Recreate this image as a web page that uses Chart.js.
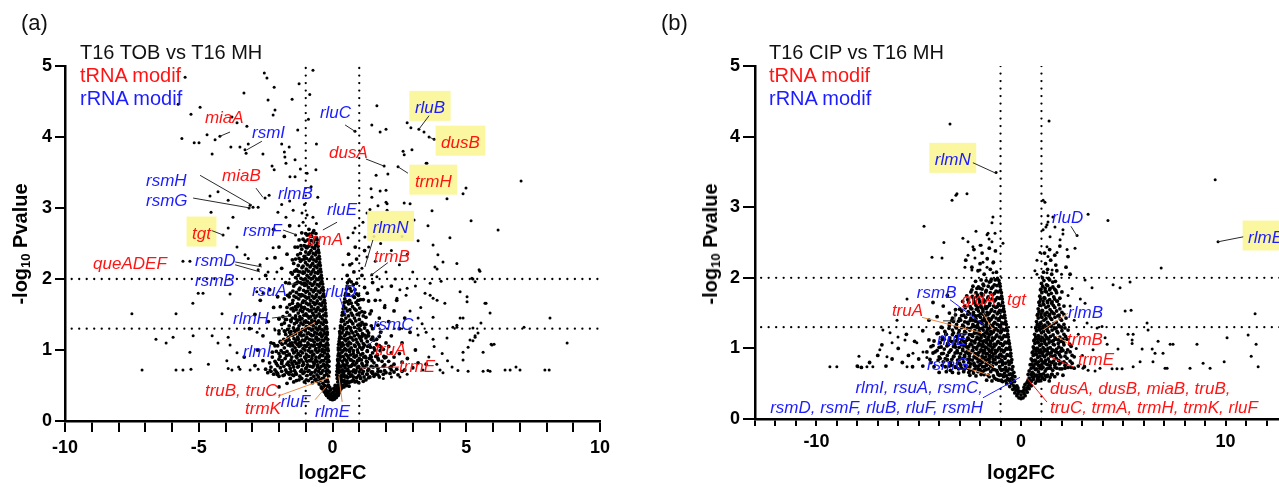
<!DOCTYPE html>
<html lang="en">
<head>
<meta charset="UTF-8">
<title>Volcano plots T16</title>
<script src="https://cdn.jsdelivr.net/npm/chart.js"></script>
<style>
  body { margin: 0; width: 1279px; height: 487px; overflow: hidden; background: #fff; position: relative;
         font-family: 'Liberation Sans', Arial, sans-serif; }
  canvas { position: absolute; top: 0; }
  .txt { position: absolute; line-height: 1; white-space: nowrap; font-size: 20px; color: #111; }
  .panel { font-size: 22px; }
  .red { color: #ff1414; }
  .blue { color: #1c1cff; }
  .ytitle { position: absolute; top: 244px; line-height: 1; white-space: nowrap; font-weight: bold; font-size: 20px;
            color: #000; transform: translate(-50%, -50%) rotate(-90deg); }
  .ytitle sub { font-size: 13px; vertical-align: -3px; line-height: 0; }
</style>
</head>
<body>

<canvas id="tob" width="640" height="487" style="left:0"></canvas>
<canvas id="cip" width="700" height="487" style="left:640px"></canvas>

<div class="txt panel" style="left:21px;top:12px">(a)</div>
<div class="txt" style="left:80px;top:42px">T16 TOB vs T16 MH</div>
<div class="txt red" style="left:80px;top:65px">tRNA modif</div>
<div class="txt blue" style="left:80px;top:88px">rRNA modif</div>
<div class="ytitle" style="left:20px">-log<sub>10</sub> Pvalue</div>

<div class="txt panel" style="left:661px;top:12px">(b)</div>
<div class="txt" style="left:769px;top:42px">T16 CIP vs T16 MH</div>
<div class="txt red" style="left:769px;top:65px">tRNA modif</div>
<div class="txt blue" style="left:769px;top:88px">rRNA modif</div>
<div class="ytitle" style="left:710px">-log<sub>10</sub> Pvalue</div>

<script>
// [log2FC, -log10 p]

// TOB vs MH : scattered genes
const tobSpread = [
  [-5.51,4.84],[-5.77,4.46],[-4.95,4.42],[-5.29,4.32],[-2.55,4.9],[-2.45,4.83],[-2.18,4.7],[-3.31,4.62],[-2.41,4.52],[-1.51,4.53],
  [-2.15,4.38],[-2.22,4.31],[-3.76,4.28],[-3.57,4.2],[-3.2,4.15],[-4.21,4.01],[-4.39,3.96],[-4.69,4.03],[-5.63,3.98],[-5.17,3.92],
  [-4.99,3.92],[-4.5,3.76],[-3.8,3.86],[-3.46,3.86],[-3.15,3.9],[-3.27,3.82],[-3.23,3.77],[-2.6,3.76],[-2.26,3.59],[-2.18,3.54],
  [-1.8,3.79],[-1.78,3.72],[-1.74,3.63],[-1.62,3.86],[-1.4,3.68],[-1.59,3.44],[-1.4,3.44],[-0.95,3.49],[-0.62,3.54],[-0.73,4.94],
  [-2.37,3.18],[-2.52,3.14],[-2.78,3.01],[-2.97,3.01],[-3.08,3.04],[-3.12,3.0],[-4.28,3.23],[-3.9,3.11],[-4.58,3.17],[-4.54,2.94],
  [-3.72,2.87],[-3.9,2.72],[-4.09,2.62],[-3.57,2.45],[-1.47,2.97],[-1.14,2.93],[-0.73,2.87],[-2.04,2.94],[-1.74,2.87],[-1.38,2.62],
  [-1.9,3.9],[-1.2,3.55],[-0.8,3.3],[-0.6,3.9],[-1.3,4.1],[-0.85,4.6],[-1.6,3.1],[-1.9,3.05],[-1.05,3.05],[-0.55,3.15],
  [-1.25,4.75],[-0.9,4.25],[-1.1,2.8],[-0.95,2.9],[-1.25,2.75],[-0.6,2.78],
  [-3.27,2.34],[-3.15,2.29],[-5.59,2.25],[-5.33,2.25],[-2.45,2.29],[-2.22,2.44],[-2.71,2.2],[-2.78,2.13],[-2.41,2.1],[-2.08,2.1],
  [-5.02,1.8],[-4.84,1.8],[-3.83,1.79],[-5.22,1.66],[-2.83,1.82],[-2.6,1.8],[-7.5,1.51],[-5.85,1.51],[-4.13,1.51],[-6.6,1.15],
  [-6.22,1.1],[-5.96,1.18],[-5.21,1.2],[-4.5,1.2],[-4.28,1.1],[-3.9,1.18],[-3.83,1.07],[-5.33,0.97],[-4.64,0.8],[-3.95,0.85],
  [-7.12,0.72],[-5.85,0.72],[-5.59,0.72],[-5.29,0.73],[-3.9,0.74],[-3.76,0.72],[-3.51,0.76],[-3.46,0.73],[-3.08,0.72],[-2.78,0.73],
  [-2.34,0.72],[-2.08,0.65],[-3.57,0.96],[-2.82,1.25],[-2.15,1.28],
  [1.66,4.44],[1.47,4.17],[1.78,4.07],[2.0,4.11],[2.79,4.2],[2.93,4.13],[3.23,4.11],[3.42,4.07],[3.61,4.0],[3.8,3.97],
  [0.84,4.08],[2.64,3.8],[2.68,3.75],[2.97,3.82],[3.53,3.63],[1.93,3.59],[2.45,3.58],[1.63,3.46],[2.07,3.48],[7.05,3.38],
  [4.99,3.28],[4.88,3.2],[4.28,3.13],[1.44,3.27],[1.78,3.24],[2.0,3.25],[1.47,3.15],[2.0,3.08],[2.04,3.06],[1.7,3.03],
  [2.68,3.07],[2.9,3.06],[1.4,2.98],[2.04,2.97],[3.72,2.96],[5.18,2.82],[3.57,2.75],[3.05,2.83],[6.19,2.69],[4.39,2.58],
  [3.2,2.54],[3.76,2.48],[0.84,2.72],[0.77,2.65],[0.58,2.58],[1.21,2.59],[1.14,2.8],[1.29,2.93],
  [3.94,2.34],[4.65,2.22],[3.83,2.17],[3.91,2.14],[4.13,2.24],[5.51,2.11],[5.25,2.0],[0.73,2.22],[0.39,2.2],[1.29,2.31],
  [1.47,2.06],[1.66,2.03],[1.85,1.89],[2.52,1.85],[2.79,1.87],[2.75,1.77],[2.41,1.73],[1.78,1.7],[1.96,1.63],[3.46,1.8],
  [3.65,1.77],[3.76,1.73],[3.91,1.7],[4.2,1.66],[4.77,1.82],[5.03,1.75],[5.03,1.68],[5.7,1.66],[5.89,1.52],[8.13,1.45],
  [8.77,1.1],[3.76,1.46],[4.77,1.45],[4.88,1.45],[4.65,1.32],[5.25,1.31],[5.33,1.2],[5.14,1.14],[5.96,1.07],[5.07,1.04],
  [4.28,1.17],[3.76,1.15],[3.35,1.37],[3.2,1.21],[5.63,0.97],[4.88,0.86],[4.47,0.76],[4.02,0.72],[4.13,0.68],[3.38,0.72],
  [5.07,0.7],[5.63,0.7],[5.89,0.7],[6.64,0.72],[6.86,0.76],[7.01,0.72],[7.94,0.72],[2.52,0.62],[2.79,0.66],[2.2,0.62],
  [1.9,0.6],[3.5,3.63],[5.48,2.13],[5.21,2.01],[5.33,1.96],[3.65,1.94],[4.06,1.97],[5.74,1.66],[5.55,1.38],[7.16,1.32],
  [4.5,1.32],[4.65,1.35],[5.44,1.24],[5.33,1.18],[5.25,1.13],[5.93,1.08],[6.04,1.08],[4.88,0.97],[4.69,0.71],[5.81,0.71],
  [6.45,0.72],[8.1,0.72],
  [1.1,2.15],[1.35,2.45],[1.55,2.6],[1.8,2.5],[2.2,2.4],[2.5,2.2],[2.8,2.35],[3.0,2.1],[2.6,2.6],[1.6,2.25],
  [2.0,2.1],[2.35,2.0],[3.1,1.9],[3.3,1.6],[2.9,1.55],[3.2,1.45],[3.5,1.25],[3.8,1.05],[4.1,0.95],[3.6,0.9],
  [4.3,0.85],[3.9,0.8]
];

// TOB vs MH : dense centre of the volcano
const tobCore = [
  [-0.22,0.36],[-0.15,0.33],[-0.08,0.31],[0,0.3],[0.07,0.31],[0.14,0.33],[0.21,0.36],[-0.28,0.4],[-0.18,0.39],[-0.1,0.36],
  [-0.03,0.34],[0.04,0.35],[0.11,0.37],[0.18,0.4],[0.26,0.42],[-0.34,0.44],[-0.25,0.45],[-0.13,0.42],[0.01,0.4],[0.13,0.44],
  [0.24,0.47],[0.31,0.45],[-0.06,0.44],[0.08,0.42],
  [-0.42,0.48],[-0.5,0.52],[-0.36,0.53],[-0.3,0.5],[-0.2,0.49],[-0.58,0.56],[-0.66,0.58],[-0.45,0.58],[-0.26,0.56],[-0.17,0.55],
  [-0.75,0.54],[-0.9,0.57],[-1.05,0.55],[-1.25,0.58],[-1.45,0.55],[-1.7,0.53],[-2.0,0.48],[-0.38,0.6],[-0.52,0.62],
  [0.2,0.5],[0.3,0.52],[0.38,0.5],[0.47,0.53],[0.25,0.57],[0.35,0.58],[0.44,0.57],[0.55,0.56],[0.65,0.55],[0.78,0.58],
  [0.9,0.56],[1.05,0.6],[1.25,0.58],[1.4,0.62],[0.18,0.6],
  [-0.15,0.63],[-0.22,0.66],[-0.3,0.64],[-0.44,0.67],[-0.58,0.65],[-0.7,0.63],[-0.82,0.66],[-0.95,0.64],[-1.1,0.67],[-1.22,0.63],
  [-1.35,0.66],[-1.5,0.65],[-1.66,0.68],[-1.85,0.64],[-2.05,0.67],[-2.3,0.7],[-0.18,0.72],[-0.27,0.75],[-0.36,0.71],[-0.48,0.74],
  [-0.62,0.72],[-0.74,0.76],[-0.88,0.71],[-1.0,0.74],[-1.15,0.72],[-1.3,0.76],[-1.42,0.71],[-1.58,0.74],[-1.75,0.72],[-1.95,0.75],
  [-2.15,0.72],[-2.5,0.73],[-0.2,0.79],[-0.33,0.8],[-0.55,0.79],[-0.68,0.81],[-0.93,0.79],[-1.08,0.8],[-1.25,0.82],[-1.48,0.79],
  [-1.68,0.8],[-1.9,0.81],
  [0.16,0.65],[0.24,0.68],[0.33,0.64],[0.42,0.66],[0.52,0.63],[0.61,0.67],[0.72,0.65],[0.85,0.68],[0.98,0.64],[1.12,0.67],
  [1.28,0.66],[1.45,0.69],[1.62,0.66],[1.8,0.7],[2.0,0.68],[2.2,0.72],[0.19,0.74],[0.28,0.76],[0.37,0.72],[0.47,0.75],
  [0.57,0.73],[0.68,0.77],[0.8,0.72],[0.93,0.75],[1.06,0.73],[1.2,0.76],[1.35,0.73],[1.52,0.76],[1.7,0.74],[1.9,0.77],
  [2.15,0.75],[2.4,0.73],[2.7,0.72],[0.22,0.81],[0.4,0.8],[0.55,0.82],[0.75,0.8],[0.9,0.82],[1.1,0.81],[1.3,0.83],
  [1.55,0.82],[1.85,0.84],[2.3,0.8],
  [-0.16,0.86],[-0.25,0.88],[-0.4,0.85],[-0.5,0.89],[-0.63,0.86],[-0.77,0.88],[-0.86,0.85],[-1.0,0.88],[-1.17,0.86],[-1.33,0.89],
  [-1.55,0.86],[-1.77,0.88],[-2.0,0.87],[-2.25,0.9],[-0.19,0.94],[-0.3,0.96],[-0.44,0.93],[-0.57,0.97],[-0.7,0.94],[-0.82,0.97],
  [-0.97,0.93],[-1.12,0.96],[-1.28,0.94],[-1.43,0.97],[-1.62,0.93],[-1.85,0.96],[-2.1,0.98],
  [0.2,0.87],[0.3,0.9],[0.45,0.87],[0.6,0.89],[0.7,0.86],[0.84,0.9],[1.0,0.88],[1.17,0.9],[1.38,0.88],[1.62,0.91],
  [2.0,0.9],[0.23,0.95],[0.35,0.97],[0.5,0.94],[0.64,0.98],[0.78,0.95],[0.95,0.97],[1.13,0.95],[1.3,0.98],[1.5,0.96],
  [1.78,0.99],[2.2,0.96],
  [-0.18,1.02],[-0.28,1.05],[-0.38,1.01],[-0.5,1.04],[-0.62,1.02],[-0.73,1.06],[-0.85,1.03],[-0.98,1.05],[-1.1,1.02],[-1.25,1.05],
  [-1.4,1.03],[-1.58,1.06],[-1.8,1.03],[-2.05,1.06],[-0.2,1.1],[-0.33,1.13],[-0.45,1.1],[-0.56,1.14],[-0.68,1.11],[-0.8,1.14],
  [-0.92,1.1],[-1.05,1.13],[-1.2,1.11],[-1.36,1.14],[-1.52,1.1],[-1.72,1.13],[-1.95,1.12],[-0.24,1.18],[-0.4,1.19],[-0.6,1.18],
  [-0.77,1.2],[-0.96,1.18],[-1.15,1.2],[-1.3,1.18],[-1.48,1.21],[-1.65,1.18],
  [0.22,1.03],[0.33,1.05],[0.46,1.02],[0.58,1.06],[0.7,1.03],[0.85,1.05],[1.02,1.04],[1.2,1.07],[1.42,1.04],[1.75,1.06],
  [0.25,1.12],[0.37,1.1],[0.5,1.13],[0.62,1.11],[0.77,1.14],[0.92,1.11],[1.08,1.13],[1.3,1.12],[1.55,1.14],[0.28,1.19],
  [0.45,1.2],[0.66,1.18],[0.82,1.2],[1.0,1.19],[1.2,1.21],
  [-0.2,1.25],[-0.32,1.27],[-0.44,1.24],[-0.55,1.28],[-0.66,1.25],[-0.78,1.28],[-0.9,1.24],[-1.02,1.27],[-1.18,1.25],[-1.35,1.28],
  [-1.55,1.26],[-1.8,1.27],[-0.23,1.33],[-0.35,1.36],[-0.48,1.33],[-0.6,1.37],[-0.72,1.34],[-0.84,1.36],[-0.97,1.33],[-1.1,1.36],
  [-1.25,1.34],[-1.42,1.37],[-1.62,1.34],[-1.9,1.36],[-0.26,1.42],[-0.38,1.44],[-0.52,1.41],[-0.65,1.45],[-0.77,1.42],[-0.88,1.45],
  [-1.0,1.41],[-1.14,1.44],[-1.3,1.42],[-1.5,1.45],[-1.72,1.43],[-2.0,1.44],
  [0.27,1.26],[0.4,1.28],[0.54,1.25],[0.7,1.27],[0.88,1.26],[1.06,1.28],[1.3,1.27],[0.3,1.34],[0.46,1.36],[0.6,1.33],
  [0.76,1.37],[0.95,1.35],[1.18,1.36],[0.34,1.43],[0.5,1.45],[0.65,1.42],[0.82,1.45],[1.0,1.43],[1.25,1.46],
  [-0.25,1.52],[-0.38,1.55],[-0.5,1.51],[-0.62,1.54],[-0.74,1.52],[-0.86,1.55],[-0.99,1.51],[-1.12,1.54],[-1.28,1.52],[-1.46,1.55],
  [-1.7,1.53],[-0.28,1.61],[-0.41,1.63],[-0.54,1.6],[-0.66,1.64],[-0.79,1.61],[-0.91,1.64],[-1.05,1.6],[-1.2,1.63],[-1.38,1.61],
  [-1.6,1.64],[-0.3,1.7],[-0.44,1.72],[-0.57,1.69],[-0.69,1.73],[-0.82,1.7],[-0.95,1.73],[-1.09,1.69],[-1.26,1.72],[-1.48,1.7],
  [-1.8,1.72],[-0.33,1.79],[-0.47,1.81],[-0.6,1.78],[-0.72,1.82],[-0.86,1.79],[-1.0,1.82],[-1.16,1.78],[-1.35,1.81],[-1.58,1.8],
  [-0.36,1.88],[-0.5,1.9],[-0.63,1.87],[-0.76,1.91],[-0.9,1.88],[-1.04,1.91],[-1.22,1.87],[-1.45,1.9],[-0.4,1.97],[-0.53,1.99],
  [-0.66,1.96],[-0.8,2.0],[-0.94,1.97],[-1.1,1.99],[-1.3,1.96],
  [0.38,1.53],[0.55,1.55],[0.7,1.52],[0.88,1.56],[1.1,1.54],[0.42,1.62],[0.6,1.65],[0.75,1.61],[0.95,1.64],[0.46,1.72],
  [0.64,1.7],[0.82,1.74],[1.05,1.71],[0.5,1.8],[0.7,1.83],[0.9,1.79],[0.55,1.9],[0.78,1.92],[0.62,1.98],[1.2,1.88],
  [-0.42,2.05],[-0.55,2.08],[-0.68,2.04],[-0.81,2.07],[-0.95,2.05],[-1.1,2.08],[-1.28,2.05],[-1.5,2.07],[-0.45,2.14],[-0.58,2.16],
  [-0.71,2.13],[-0.84,2.17],[-0.98,2.14],[-1.14,2.16],[-1.35,2.13],[-0.48,2.23],[-0.61,2.25],[-0.74,2.22],[-0.87,2.26],[-1.01,2.23],
  [-1.2,2.25],[-1.45,2.22],[-0.5,2.32],[-0.64,2.34],[-0.77,2.31],[-0.9,2.35],[-1.06,2.32],[-1.3,2.34],[-0.53,2.41],[-0.67,2.43],
  [-0.8,2.4],[-0.95,2.44],[-1.15,2.42],[-0.56,2.5],[-0.7,2.52],[-0.85,2.49],[-1.02,2.53],[-0.6,2.58],[-0.78,2.6],[-0.95,2.62],
  [-1.25,2.55],[-0.7,2.68],[-0.88,2.7],
  [0.55,2.05],[0.8,2.1],[1.1,2.05],[0.65,2.2],[0.9,2.28],[0.6,2.35],[0.85,2.45],[1.2,2.4],
  [1.35,1.2],[1.5,1.3],[1.65,1.15],[1.8,1.25],[2.0,1.1],[2.2,1.2],[1.45,1.55],[1.6,1.7],[1.75,1.45],[1.95,1.6],
  [2.1,1.4],[2.3,1.55],[2.5,1.3],[2.7,1.45],[1.3,1.8],[1.5,1.95],[1.7,1.85],[2.2,1.9],[2.4,1.7],[2.6,1.1],
  [2.9,1.25],[3.1,1.0],[2.5,0.95],[2.8,0.88],[3.2,0.82],[3.5,0.8],[2.6,0.83],[3.0,0.75],
  [-2.2,1.6],[-2.4,1.4],[-2.6,1.2],[-2.35,1.85],[-2.5,2.05],[-2.15,2.3],[-2.7,1.7],[-2.9,1.5],[-3.1,1.3],[-2.3,1.1],
  [-2.8,1.0],[-3.3,0.9],[-2.6,0.85],[-2.9,0.78],[-2.0,2.45],[-1.8,2.6],[-1.6,2.75],[-2.2,2.7],[-1.7,2.35],[-1.9,2.15],
  [-1.75,1.95],[-2.05,1.75]
];

// TOB vs MH : second pass over the same centre, between the first rows
const tobCoreFill = [
  [-0.2,0.58],[-0.33,0.6],[-0.47,0.57],[-0.62,0.59],[-0.8,0.6],[-0.98,0.58],[-1.15,0.6],[-1.35,0.57],[-1.58,0.6],
  [-0.12,0.69],[-0.24,0.7],[-0.4,0.68],[-0.52,0.7],[-0.66,0.69],[-0.78,0.68],[-0.92,0.7],[-1.05,0.69],[-1.19,0.7],[-1.38,0.68],
  [-1.55,0.7],[-1.72,0.69],[-1.9,0.7],[-2.1,0.69],
  [-0.14,0.77],[-0.3,0.78],[-0.42,0.77],[-0.56,0.76],[-0.7,0.78],[-0.83,0.77],[-0.96,0.76],[-1.12,0.78],[-1.27,0.77],[-1.45,0.76],
  [-1.62,0.78],[-1.82,0.77],[-2.05,0.78],[-2.3,0.76],
  [-0.13,0.84],[-0.21,0.83],[-0.34,0.85],[-0.46,0.83],[-0.58,0.84],[-0.72,0.83],[-0.82,0.85],[-0.95,0.84],[-1.1,0.83],[-1.25,0.85],
  [-1.42,0.84],[-1.65,0.83],[-1.88,0.85],[-2.15,0.84],
  [-0.15,0.91],[-0.24,0.9],[-0.36,0.92],[-0.48,0.91],[-0.62,0.9],[-0.76,0.92],[-0.89,0.91],[-1.04,0.9],[-1.2,0.92],[-1.36,0.91],
  [-1.52,0.9],[-1.72,0.92],[-1.96,0.91],
  [-0.16,0.99],[-0.26,1.0],[-0.38,0.98],[-0.5,0.99],[-0.64,1.0],[-0.77,0.98],[-0.9,0.99],[-1.03,1.0],[-1.18,0.98],[-1.34,0.99],
  [-1.5,1.0],[-1.7,0.98],[-1.92,0.99],
  [-0.17,1.07],[-0.24,1.08],[-0.35,1.06],[-0.44,1.07],[-0.56,1.08],[-0.68,1.06],[-0.8,1.07],[-0.91,1.08],[-1.04,1.06],[-1.17,1.07],
  [-1.32,1.08],[-1.48,1.06],[-1.66,1.07],[-1.88,1.08],[-2.15,1.06],
  [-0.18,1.15],[-0.27,1.16],[-0.39,1.14],[-0.51,1.15],[-0.62,1.16],[-0.74,1.14],[-0.86,1.15],[-0.99,1.16],[-1.12,1.14],[-1.28,1.15],
  [-1.44,1.16],[-1.62,1.14],[-1.82,1.15],
  [-0.2,1.22],[-0.29,1.23],[-0.36,1.21],[-0.48,1.22],[-0.58,1.23],[-0.7,1.21],[-0.82,1.22],[-0.94,1.23],[-1.07,1.21],[-1.22,1.22],
  [-1.38,1.23],[-1.56,1.21],[-1.75,1.22],[-2.0,1.23],
  [-0.21,1.3],[-0.28,1.31],[-0.4,1.29],[-0.51,1.3],[-0.62,1.31],[-0.74,1.29],[-0.86,1.3],[-0.98,1.31],[-1.12,1.29],[-1.28,1.3],
  [-1.46,1.31],[-1.68,1.29],
  [-0.23,1.39],[-0.31,1.4],[-0.43,1.38],[-0.55,1.39],[-0.66,1.4],[-0.79,1.38],[-0.92,1.39],[-1.05,1.4],[-1.18,1.38],[-1.34,1.39],
  [-1.55,1.4],[-1.8,1.38],
  [-0.24,1.48],[-0.33,1.49],[-0.45,1.47],[-0.58,1.48],[-0.7,1.49],[-0.82,1.47],[-0.94,1.48],[-1.07,1.49],[-1.22,1.47],[-1.38,1.48],
  [-1.6,1.49],[-1.85,1.47],
  [-0.26,1.57],[-0.34,1.58],[-0.46,1.56],[-0.58,1.57],[-0.69,1.58],[-0.8,1.56],[-0.93,1.57],[-1.06,1.58],[-1.2,1.56],[-1.36,1.57],
  [-1.55,1.58],
  [-0.28,1.66],[-0.36,1.67],[-0.48,1.65],[-0.6,1.66],[-0.72,1.67],[-0.85,1.65],[-0.98,1.66],[-1.12,1.67],[-1.3,1.65],[-1.5,1.66],
  [-0.31,1.75],[-0.38,1.76],[-0.5,1.74],[-0.63,1.75],[-0.76,1.76],[-0.89,1.74],[-1.02,1.75],[-1.18,1.76],[-1.36,1.74],[-1.62,1.75],
  [-0.34,1.84],[-0.42,1.85],[-0.54,1.83],[-0.67,1.84],[-0.8,1.85],[-0.93,1.83],[-1.08,1.84],[-1.25,1.85],[-1.48,1.83],
  [-0.37,1.93],[-0.45,1.94],[-0.57,1.92],[-0.7,1.93],[-0.84,1.94],[-0.97,1.92],[-1.14,1.93],[-1.34,1.94],
  [-0.4,2.01],[-0.48,2.02],[-0.6,2.0],[-0.74,2.01],[-0.88,2.02],[-1.02,2.0],[-1.18,2.01],[-1.38,2.02],
  [-0.43,2.1],[-0.52,2.11],[-0.64,2.09],[-0.77,2.1],[-0.9,2.11],[-1.05,2.09],[-1.22,2.1],[-1.42,2.11],
  [-0.46,2.19],[-0.54,2.2],[-0.66,2.18],[-0.8,2.19],[-0.94,2.2],[-1.1,2.18],[-1.28,2.19],
  [-0.48,2.28],[-0.57,2.29],[-0.7,2.27],[-0.83,2.28],[-0.97,2.29],[-1.14,2.27],[-1.38,2.28],
  [-0.51,2.37],[-0.6,2.38],[-0.72,2.36],[-0.86,2.37],[-1.0,2.38],[-1.2,2.36],
  [-0.54,2.46],[-0.63,2.47],[-0.76,2.45],[-0.9,2.46],[-1.06,2.47],[-1.3,2.45],
  [-0.57,2.55],[-0.67,2.56],[-0.8,2.54],[-0.92,2.55],[-1.1,2.56],
  [-0.62,2.64],[-0.74,2.65],[-0.85,2.63],[-1.0,2.64],[-1.15,2.65],
  [0.18,0.48],[0.27,0.49],[0.35,0.47],[0.43,0.48],[0.52,0.5],[0.62,0.49],
  [0.2,0.55],[0.29,0.54],[0.39,0.56],[0.5,0.55],[0.6,0.54],[0.72,0.56],[0.84,0.55],[0.98,0.54],[1.15,0.56],
  [0.21,0.62],[0.3,0.61],[0.38,0.63],[0.47,0.62],[0.57,0.61],[0.66,0.63],[0.78,0.62],[0.9,0.61],[1.02,0.63],[1.18,0.62],
  [1.35,0.61],[1.55,0.63],[1.75,0.62],
  [0.17,0.7],[0.26,0.71],[0.35,0.69],[0.44,0.7],[0.54,0.71],[0.64,0.69],[0.76,0.7],[0.88,0.71],[1.0,0.69],[1.15,0.7],
  [1.32,0.71],[1.5,0.69],[1.7,0.7],[1.95,0.71],[2.3,0.69],[2.6,0.7],
  [0.18,0.78],[0.24,0.79],[0.33,0.77],[0.42,0.78],[0.52,0.79],[0.62,0.77],[0.72,0.78],[0.84,0.79],[0.98,0.77],[1.14,0.78],
  [1.28,0.79],[1.45,0.77],[1.65,0.78],[1.95,0.79],[2.2,0.77],
  [0.2,0.85],[0.27,0.86],[0.37,0.84],[0.52,0.85],[0.66,0.86],[0.78,0.84],[0.93,0.85],[1.08,0.86],[1.27,0.84],[1.48,0.85],
  [1.72,0.86],[2.1,0.84],
  [0.21,0.92],[0.28,0.93],[0.4,0.91],[0.55,0.92],[0.67,0.93],[0.8,0.91],[0.9,0.92],[1.06,0.93],[1.22,0.91],[1.42,0.92],
  [1.68,0.93],[1.92,0.91],
  [0.22,1.0],[0.28,1.01],[0.4,0.99],[0.52,1.0],[0.65,1.01],[0.78,0.99],[0.93,1.0],[1.1,1.01],[1.3,0.99],[1.58,1.0],[1.9,1.01],
  [0.23,1.08],[0.3,1.09],[0.42,1.07],[0.55,1.08],[0.68,1.09],[0.82,1.07],[0.98,1.08],[1.15,1.09],[1.38,1.07],[1.65,1.08],
  [0.26,1.16],[0.34,1.17],[0.45,1.15],[0.57,1.16],[0.72,1.17],[0.88,1.15],[1.05,1.16],[1.25,1.17],[1.45,1.15],
  [0.28,1.23],[0.36,1.24],[0.5,1.22],[0.62,1.23],[0.76,1.24],[0.94,1.22],[1.12,1.23],[1.35,1.24],
  [0.3,1.31],[0.38,1.32],[0.52,1.3],[0.67,1.31],[0.82,1.32],[1.0,1.3],[1.2,1.31],
  [0.33,1.4],[0.42,1.41],[0.56,1.39],[0.7,1.4],[0.87,1.41],[1.1,1.39],
  [0.36,1.49],[0.45,1.5],[0.6,1.48],[0.75,1.49],[0.92,1.5],[1.15,1.48],
  [0.4,1.58],[0.5,1.59],[0.65,1.57],[0.82,1.58],[1.02,1.59],
  [0.44,1.67],[0.54,1.68],[0.7,1.66],[0.88,1.67],
  [0.48,1.77],[0.6,1.78],[0.77,1.76],[0.97,1.77],
  [0.52,1.86],[0.65,1.87],[0.84,1.85],
  [0.56,1.95],[0.7,1.96],[0.9,1.94],
  [-0.25,0.38],[-0.12,0.35],[0.02,0.32],[0.12,0.34],[0.24,0.39],[-0.32,0.42],[-0.2,0.42],[-0.06,0.38],[0.06,0.37],[0.2,0.43],
  [-0.4,0.46],[-0.28,0.48],[-0.1,0.47],[0.05,0.46],[0.17,0.47],[-0.15,0.5],[0.1,0.5]
];

// TOB vs MH : outer flanks of both arms
const tobFlank = [
  [-1.45,0.64],[-1.62,0.66],[-1.8,0.65],[-2.0,0.63],[-2.2,0.66],[-2.42,0.68],
  [-1.35,0.81],[-1.52,0.82],[-1.7,0.8],[-1.9,0.83],[-2.1,0.81],[-2.35,0.82],
  [-1.28,0.95],[-1.45,0.96],[-1.62,0.94],[-1.8,0.96],[-2.0,0.95],[-2.25,0.97],
  [-1.25,1.1],[-1.4,1.11],[-1.58,1.09],[-1.76,1.1],[-1.95,1.11],[-2.2,1.09],
  [-1.25,1.26],[-1.42,1.27],[-1.6,1.25],[-1.78,1.26],[-2.0,1.27],
  [-1.22,1.43],[-1.38,1.44],[-1.56,1.42],[-1.76,1.43],[-2.0,1.44],
  [-1.15,1.6],[-1.3,1.61],[-1.48,1.59],[-1.7,1.6],[-1.95,1.61],
  [-1.1,1.77],[-1.25,1.78],[-1.44,1.76],[-1.68,1.77],
  [-1.05,1.94],[-1.2,1.95],[-1.4,1.93],[-1.62,1.94],
  [-1.1,2.1],[-1.3,2.11],[-1.55,2.09],
  [-1.05,2.28],[-1.25,2.29],[-1.5,2.27],
  [-1.0,2.46],[-1.18,2.47],[-1.4,2.45],
  [1.3,0.66],[1.5,0.67],[1.7,0.65],[1.9,0.66],[2.15,0.67],[2.45,0.65],
  [1.25,0.89],[1.45,0.9],[1.7,0.88],[1.95,0.89],[2.3,0.9],
  [1.15,1.04],[1.32,1.05],[1.55,1.03],[1.82,1.04],[2.1,1.05],
  [1.1,1.19],[1.3,1.2],[1.5,1.18],[1.75,1.19],
  [1.05,1.35],[1.25,1.36],[1.45,1.34],[1.7,1.35],
  [1.0,1.52],[1.2,1.53],[1.4,1.51],
  [0.95,1.7],[1.15,1.71],[1.35,1.69]
];

// CIP vs MH : scattered genes
const cipSpread = [
  [-3.47,4.18],[-3.18,3.17],[-3.37,3.1],[-4.74,2.73],[-3.77,2.5],[1.37,4.22],[-1.22,3.49],[-3.13,3.19],[-2.64,3.19],[9.49,3.39],
  [3.28,2.9],[4.25,2.81],[2.74,2.6],[9.63,2.51],[2.05,2.68],[2.05,2.62],[1.66,2.72],[1.32,2.79],[1.17,3.07],[1.22,2.72],
  [-1.37,2.86],[-1.42,2.78],[-1.66,2.61],[-1.27,2.63],[-2.2,2.66],[-2.84,2.56],[-2.59,2.51],[-2.35,2.44],[-2.0,2.46],[-1.56,2.55],
  [-0.88,2.49],[2.64,2.42],[-1.61,2.63],[-1.42,2.51],[-1.95,2.46],[-4.35,2.29],[-3.86,2.28],[-2.59,2.32],[-2.25,2.28],[-1.86,2.22],
  [-1.37,2.21],[-2.74,2.15],[-2.4,2.11],[-2.0,2.11],[-1.66,2.15],[-1.37,2.07],
  [1.08,3.1],[1.32,2.88],[1.56,2.86],[1.27,2.75],[1.08,2.68],[1.42,2.58],[1.91,2.54],[1.27,2.44],[1.32,2.3],[1.76,2.36],
  [2.25,2.4],[0.78,2.25],[0.93,2.36],[0.68,2.1],[0.78,2.05],[1.27,2.07],[1.52,2.11],[1.98,2.05],
  [-5.57,1.7],[-6.06,1.4],[-6.75,1.26],[-6.4,1.22],[-6.01,1.16],[-5.67,1.12],[-6.3,1.08],[-6.9,0.98],[-6.55,0.88],[-7.92,0.89],
  [-7.53,0.74],[-7.24,0.74],[-9.34,0.74],[-9.0,0.74],[-7.97,0.74],[-5.28,0.93],[-5.57,0.74],[-4.79,0.95],[-4.6,0.87],[-5.09,1.08],
  [6.85,2.14],[3.13,1.97],[3.47,1.86],[4.5,1.9],[4.84,1.86],[5.33,1.94],[3.13,1.64],[5.09,1.53],[5.38,1.54],[11.44,1.49],
  [6.16,1.36],[6.21,1.26],[5.23,1.2],[5.48,1.2],[5.43,1.12],[5.43,1.07],[6.7,1.1],[7.29,1.06],[7.43,1.06],[8.6,1.06],
  [10.07,1.15],[11.1,1.19],[11.49,1.06],[11.25,0.89],[11.59,0.74],[4.21,1.06],[4.11,1.15],[4.74,0.99],[5.92,0.99],[6.41,0.99],
  [6.55,0.93],[6.94,0.93],[5.82,0.81],[6.45,0.81],[8.9,0.79],[9.24,0.72],[9.93,0.81],[7.04,0.72],[7.14,0.72],[8.26,0.72],
  [5.48,0.74],[4.45,0.71],[4.69,0.71],[4.94,0.71],[3.86,0.72],[3.62,0.68],[3.28,0.69],[3.03,0.72],[3.52,0.98],[3.72,1.29],
  [3.23,1.36],[3.96,1.31],
  [2.4,1.6],[2.6,1.4],[2.8,1.2],[2.5,1.85],[2.9,1.7],[2.7,1.0],[3.0,0.9],[2.3,1.75]
];

// CIP vs MH : dense centre of the volcano
const cipCore = [
  [-0.2,0.33],[-0.1,0.3],[0,0.29],[0.1,0.3],[0.2,0.33],[-0.3,0.37],[-0.15,0.36],[0,0.34],[0.15,0.36],[0.3,0.38],
  [-0.4,0.42],[-0.25,0.41],[-0.08,0.39],[0.08,0.39],[0.25,0.41],[0.4,0.43],[-0.55,0.46],[-0.35,0.47],[-0.15,0.44],[0.15,0.45],
  [0.35,0.47],[0.5,0.47],
  [-0.7,0.5],[-0.5,0.52],[-0.32,0.53],[-0.9,0.53],[-1.1,0.55],[-0.65,0.57],[-0.45,0.58],[-0.3,0.6],[-1.3,0.58],[-0.85,0.6],
  [-1.55,0.6],[-1.05,0.62],[-1.8,0.63],
  [0.3,0.52],[0.5,0.53],[0.7,0.51],[0.9,0.54],[0.4,0.58],[0.6,0.59],[0.8,0.57],[1.05,0.58],[1.25,0.6],[0.35,0.63],[1.5,0.63],
  [-0.35,0.66],[-0.5,0.64],[-0.65,0.68],[-0.8,0.65],[-0.95,0.69],[-1.15,0.66],[-1.3,0.7],[-1.48,0.67],[-1.7,0.7],[-1.9,0.67],
  [-2.1,0.71],[-2.35,0.69],[-2.6,0.72],[-2.9,0.72],[-3.2,0.73],[-0.4,0.74],[-0.58,0.77],[-0.75,0.73],[-0.9,0.77],[-1.05,0.74],
  [-1.22,0.78],[-1.4,0.75],[-1.58,0.78],[-1.78,0.74],[-2.0,0.77],[-2.2,0.75],[-2.45,0.78],[-2.7,0.76],[-3.0,0.79],[-3.4,0.76],
  [-3.7,0.74],
  [0.4,0.68],[0.55,0.66],[0.7,0.7],[0.85,0.67],[1.0,0.71],[1.18,0.68],[1.35,0.72],[1.55,0.69],[1.75,0.72],[2.0,0.71],
  [2.3,0.73],[2.6,0.72],[0.45,0.77],[0.62,0.75],[0.78,0.79],[0.95,0.76],[1.12,0.8],[1.3,0.77],[1.5,0.8],[1.7,0.78],
  [1.95,0.8],[2.2,0.78],[2.5,0.79],[2.8,0.75],[3.1,0.74],
  [-0.45,0.84],[-0.62,0.82],[-0.78,0.86],[-0.93,0.83],[-1.1,0.87],[-1.27,0.84],[-1.45,0.88],[-1.62,0.84],[-1.82,0.87],[-2.02,0.83],
  [-2.25,0.87],[-2.5,0.84],[-2.75,0.88],[-3.0,0.85],[-3.3,0.88],[-3.6,0.84],[-3.95,0.86],[-0.5,0.93],[-0.68,0.91],[-0.85,0.95],
  [-1.0,0.92],[-1.18,0.96],[-1.35,0.92],[-1.53,0.96],[-1.72,0.93],[-1.92,0.97],[-2.12,0.93],[-2.35,0.97],[-2.6,0.93],[-2.85,0.97],
  [-3.1,0.94],[-3.45,0.97],[-3.8,0.93],[-4.2,0.95],
  [0.5,0.85],[0.66,0.83],[0.82,0.87],[0.98,0.84],[1.15,0.88],[1.33,0.85],[1.52,0.89],[1.72,0.86],[1.95,0.88],[2.25,0.86],
  [2.6,0.88],[0.55,0.94],[0.7,0.92],[0.87,0.96],[1.03,0.93],[1.2,0.97],[1.38,0.93],[1.58,0.97],[1.8,0.94],[2.05,0.97],[2.4,0.95],
  [-0.55,1.02],[-0.72,1.0],[-0.9,1.04],[-1.06,1.01],[-1.23,1.05],[-1.4,1.01],[-1.58,1.05],[-1.77,1.02],[-1.97,1.05],[-2.18,1.01],
  [-2.4,1.05],[-2.65,1.02],[-2.9,1.05],[-3.2,1.02],[-3.55,1.05],[-3.9,1.02],[-4.3,1.04],[-0.6,1.11],[-0.78,1.09],[-0.95,1.13],
  [-1.12,1.1],[-1.3,1.14],[-1.48,1.1],[-1.67,1.13],[-1.87,1.1],[-2.08,1.14],[-2.3,1.1],[-2.55,1.13],[-2.8,1.1],[-3.1,1.13],
  [-3.4,1.1],[-3.75,1.13],[-4.5,1.12],[-0.65,1.2],[-0.83,1.18],[-1.0,1.22],[-1.18,1.19],[-1.36,1.23],[-1.55,1.19],[-1.75,1.22],
  [-1.95,1.18],[-2.17,1.22],[-2.42,1.19],[-2.7,1.22],[-3.0,1.19],[-3.3,1.22],[-3.65,1.2],[-4.1,1.21],
  [0.6,1.02],[0.76,1.0],[0.92,1.04],[1.08,1.01],[1.25,1.05],[1.43,1.01],[1.63,1.05],[1.85,1.02],[2.1,1.05],[2.45,1.03],
  [0.63,1.11],[0.8,1.09],[0.96,1.13],[1.13,1.1],[1.3,1.14],[1.5,1.1],[1.7,1.13],[1.95,1.1],[2.25,1.13],[0.67,1.2],
  [0.84,1.18],[1.0,1.22],[1.18,1.19],[1.36,1.23],[1.57,1.19],[1.8,1.22],[2.1,1.2],
  [-0.7,1.29],[-0.88,1.27],[-1.05,1.31],[-1.22,1.28],[-1.4,1.32],[-1.6,1.28],[-1.8,1.31],[-2.02,1.28],[-2.26,1.31],[-2.5,1.28],
  [-2.8,1.31],[-3.15,1.29],[-3.5,1.32],[-3.9,1.3],[-0.75,1.38],[-0.93,1.36],[-1.1,1.4],[-1.28,1.37],[-1.47,1.41],[-1.67,1.37],
  [-1.88,1.4],[-2.1,1.37],[-2.35,1.4],[-2.62,1.37],[-2.95,1.4],[-3.3,1.38],[-0.8,1.47],[-0.98,1.45],[-1.16,1.49],[-1.35,1.46],
  [-1.55,1.5],[-1.76,1.46],[-1.98,1.49],[-2.22,1.46],[-2.5,1.49],[-2.8,1.47],[-0.85,1.56],[-1.04,1.54],[-1.23,1.58],[-1.43,1.55],
  [-1.64,1.59],[-1.86,1.55],[-2.1,1.58],[-2.4,1.56],
  [0.72,1.29],[0.9,1.27],[1.07,1.31],[1.25,1.28],[1.44,1.32],[1.65,1.28],[1.88,1.31],[2.15,1.29],[0.76,1.38],[0.94,1.36],
  [1.12,1.4],[1.3,1.37],[1.5,1.41],[1.72,1.37],[1.98,1.4],[0.8,1.47],[0.98,1.45],[1.17,1.49],[1.36,1.46],[1.57,1.5],
  [1.8,1.46],[2.1,1.48],[0.84,1.56],[1.03,1.54],[1.22,1.58],[1.42,1.55],[1.65,1.58],[1.9,1.56],
  [-0.9,1.65],[-1.1,1.63],[-1.3,1.67],[-1.52,1.64],[-1.75,1.67],[-2.0,1.64],[-2.3,1.67],[-0.95,1.74],[-1.16,1.72],[-1.38,1.76],
  [-1.6,1.73],[-1.85,1.76],[-2.15,1.73],[-1.0,1.83],[-1.22,1.81],[-1.45,1.85],[-1.7,1.82],[-2.0,1.85],[-1.05,1.92],[-1.3,1.9],
  [-1.55,1.94],[-1.85,1.91],[-1.15,1.99],[-1.45,1.98],
  [0.88,1.65],[1.08,1.63],[1.28,1.67],[1.5,1.64],[1.75,1.67],[0.92,1.74],[1.13,1.72],[1.35,1.76],[1.6,1.73],[0.95,1.83],
  [1.18,1.81],[1.42,1.85],[1.7,1.82],[1.0,1.92],[1.25,1.9],[1.55,1.94],[1.05,2.0],[1.35,1.99],
  [1.1,2.08],[1.3,2.12],[1.5,2.05],[1.75,2.1],[1.2,2.2],[1.45,2.25],[1.7,2.18],[1.15,2.35],[1.4,2.4],[1.65,2.32],
  [1.9,2.45],[2.2,2.15],[2.4,2.05],[2.3,2.3],
  [-1.2,2.08],[-1.5,2.12],[-1.8,2.05],[-2.1,2.1],[-1.35,2.22],[-1.65,2.27],[-2.0,2.2],[-2.4,2.15],[-1.25,2.38],[-1.55,2.42],
  [-1.9,2.35],[-2.3,2.4],[-2.7,2.25],
  [-4.5,1.4],[-4.8,1.25],[-5.2,1.1],[-4.6,0.95],[-5.0,0.85],[-5.5,0.9],[-4.4,0.8],[-4.8,0.75],[-5.3,0.74],[-5.8,0.8],
  [-6.0,1.0],[-5.6,1.2],[-6.3,0.85],[-6.6,0.75],[-7.0,0.9],[-6.8,1.05],[-7.4,0.8],[-7.8,0.73],[-8.0,0.75],[-3.5,1.5],
  [-3.8,1.6],[-4.1,1.45],[-3.2,1.55],[-3.6,1.75],[-4.3,1.65]
];

// CIP vs MH : second pass over the same centre, between the first rows
const cipCoreFill = [
  [-0.38,0.55],[-0.55,0.56],[-0.75,0.54],[-0.95,0.55],[-1.2,0.56],[-1.42,0.54],[-1.68,0.55],
  [-0.42,0.62],[-0.58,0.63],[-0.72,0.61],[-0.9,0.62],[-1.12,0.63],[-1.35,0.61],[-1.6,0.62],[-1.95,0.63],[-2.2,0.61],[-2.5,0.62],
  [-0.44,0.7],[-0.58,0.71],[-0.72,0.69],[-0.87,0.7],[-1.02,0.71],[-1.2,0.69],[-1.38,0.7],[-1.58,0.71],[-1.8,0.69],[-2.0,0.7],
  [-2.25,0.71],[-2.5,0.69],[-2.78,0.7],[-3.05,0.71],[-3.45,0.69],
  [-0.48,0.8],[-0.62,0.81],[-0.76,0.79],[-0.9,0.8],[-1.05,0.81],[-1.2,0.79],[-1.36,0.8],[-1.52,0.81],[-1.7,0.79],[-1.9,0.8],
  [-2.1,0.81],[-2.3,0.79],[-2.55,0.8],[-2.8,0.81],[-3.1,0.79],[-3.45,0.8],[-3.8,0.81],
  [-0.5,0.89],[-0.64,0.9],[-0.78,0.88],[-0.92,0.89],[-1.06,0.9],[-1.22,0.88],[-1.38,0.89],[-1.54,0.9],[-1.72,0.88],[-1.9,0.89],
  [-2.1,0.9],[-2.3,0.88],[-2.52,0.89],[-2.76,0.9],[-3.0,0.88],[-3.28,0.89],[-3.6,0.9],[-4.0,0.88],
  [-0.52,0.98],[-0.66,0.99],[-0.8,0.97],[-0.95,0.98],[-1.1,0.99],[-1.26,0.97],[-1.42,0.98],[-1.6,0.99],[-1.78,0.97],[-1.96,0.98],
  [-2.16,0.99],[-2.38,0.97],[-2.6,0.98],[-2.85,0.99],[-3.12,0.97],[-3.42,0.98],[-3.75,0.99],[-4.1,0.97],
  [-0.57,1.07],[-0.7,1.08],[-0.85,1.06],[-1.0,1.07],[-1.16,1.08],[-1.32,1.06],[-1.5,1.07],[-1.68,1.08],[-1.86,1.06],[-2.05,1.07],
  [-2.25,1.08],[-2.48,1.06],[-2.72,1.07],[-2.98,1.08],[-3.25,1.06],[-3.58,1.07],[-3.95,1.08],
  [-0.62,1.16],[-0.75,1.17],[-0.9,1.15],[-1.06,1.16],[-1.22,1.17],[-1.4,1.15],[-1.58,1.16],[-1.76,1.17],[-1.95,1.15],[-2.15,1.16],
  [-2.36,1.17],[-2.6,1.15],[-2.85,1.16],[-3.15,1.17],[-3.48,1.15],[-3.85,1.16],
  [-0.66,1.25],[-0.8,1.26],[-0.96,1.24],[-1.12,1.25],[-1.3,1.26],[-1.48,1.24],[-1.66,1.25],[-1.85,1.26],[-2.05,1.24],[-2.26,1.25],
  [-2.5,1.26],[-2.75,1.24],[-3.02,1.25],[-3.35,1.26],[-3.72,1.24],
  [-0.72,1.34],[-0.85,1.35],[-1.0,1.33],[-1.16,1.34],[-1.33,1.35],[-1.5,1.33],[-1.7,1.34],[-1.9,1.35],[-2.12,1.33],[-2.35,1.34],
  [-2.58,1.35],[-2.85,1.33],[-3.15,1.34],[-3.5,1.35],
  [-0.78,1.43],[-0.9,1.44],[-1.06,1.42],[-1.22,1.43],[-1.4,1.44],[-1.58,1.42],[-1.78,1.43],[-1.98,1.44],[-2.2,1.42],[-2.45,1.43],
  [-2.7,1.44],[-3.0,1.42],[-3.35,1.43],
  [-0.82,1.52],[-0.95,1.53],[-1.1,1.51],[-1.28,1.52],[-1.46,1.53],[-1.66,1.51],[-1.86,1.52],[-2.08,1.53],[-2.32,1.51],[-2.58,1.52],
  [-2.9,1.53],
  [-0.86,1.6],[-1.0,1.61],[-1.16,1.59],[-1.34,1.6],[-1.54,1.61],[-1.74,1.59],[-1.96,1.6],[-2.2,1.61],[-2.48,1.59],[-2.75,1.6],
  [-0.92,1.7],[-1.06,1.71],[-1.24,1.69],[-1.42,1.7],[-1.62,1.71],[-1.84,1.69],[-2.06,1.7],[-2.32,1.71],[-2.6,1.69],
  [-0.96,1.79],[-1.12,1.8],[-1.3,1.78],[-1.5,1.79],[-1.72,1.8],[-1.94,1.78],[-2.2,1.79],[-2.45,1.8],
  [-1.02,1.88],[-1.18,1.89],[-1.38,1.87],[-1.6,1.88],[-1.82,1.89],[-2.08,1.87],[-2.35,1.88],
  [-1.08,1.96],[-1.26,1.97],[-1.48,1.95],[-1.7,1.96],[-1.95,1.97],[-2.22,1.95],
  [0.45,0.55],[0.6,0.56],[0.78,0.54],[0.95,0.55],[1.15,0.56],[1.38,0.54],
  [0.5,0.63],[0.62,0.64],[0.76,0.62],[0.92,0.63],[1.1,0.64],[1.3,0.62],[1.52,0.63],[1.78,0.64],[2.05,0.62],
  [0.5,0.72],[0.62,0.73],[0.77,0.71],[0.92,0.72],[1.08,0.73],[1.26,0.71],[1.45,0.72],[1.66,0.73],[1.9,0.71],[2.15,0.72],[2.45,0.73],
  [0.56,0.82],[0.7,0.83],[0.86,0.81],[1.02,0.82],[1.2,0.83],[1.4,0.81],[1.6,0.82],[1.84,0.83],[2.1,0.81],[2.4,0.82],
  [0.6,0.9],[0.76,0.91],[0.92,0.89],[1.08,0.9],[1.26,0.91],[1.46,0.89],[1.66,0.9],[1.88,0.91],[2.15,0.89],[2.5,0.9],
  [0.64,0.99],[0.8,1.0],[0.96,0.98],[1.14,0.99],[1.32,1.0],[1.52,0.98],[1.74,0.99],[1.98,1.0],[2.28,0.98],
  [0.68,1.07],[0.84,1.08],[1.0,1.06],[1.18,1.07],[1.37,1.08],[1.58,1.06],[1.82,1.07],[2.08,1.08],[2.38,1.06],
  [0.72,1.16],[0.88,1.17],[1.06,1.15],[1.25,1.16],[1.44,1.17],[1.66,1.15],[1.9,1.16],[2.18,1.17],
  [0.76,1.25],[0.92,1.26],[1.1,1.24],[1.3,1.25],[1.52,1.26],[1.76,1.24],[2.0,1.25],[2.3,1.26],
  [0.8,1.34],[0.98,1.35],[1.17,1.33],[1.38,1.34],[1.6,1.35],[1.84,1.33],[2.1,1.34],
  [0.84,1.43],[1.02,1.44],[1.22,1.42],[1.44,1.43],[1.66,1.44],[1.92,1.42],[2.2,1.43],
  [0.88,1.52],[1.06,1.53],[1.27,1.51],[1.5,1.52],[1.74,1.53],[2.0,1.51],
  [0.92,1.61],[1.12,1.62],[1.34,1.6],[1.58,1.61],[1.85,1.62],[2.1,1.6],
  [0.96,1.7],[1.16,1.71],[1.4,1.69],[1.64,1.7],[1.9,1.71],
  [1.02,1.79],[1.24,1.8],[1.48,1.78],[1.74,1.79],[2.0,1.8],
  [1.06,1.88],[1.3,1.89],[1.56,1.87],[1.84,1.88],
  [1.12,1.96],[1.4,1.97],[1.68,1.95],
  [-0.3,0.45],[-0.15,0.4],[0.15,0.41],[0.3,0.44],[-0.45,0.5],[-0.2,0.47],[0.2,0.49],[0.42,0.5],[-0.6,0.55],[0.35,0.55]
];

// CIP vs MH : wide left wing and right wing, third pass
const cipFlank = [
  [-1.9,0.66],[-2.1,0.67],[-2.32,0.65],[-2.55,0.66],[-2.8,0.67],[-3.05,0.65],[-3.35,0.66],[-3.65,0.67],[-4.0,0.66],
  [-1.48,0.75],[-1.68,0.76],[-1.88,0.74],[-2.08,0.75],[-2.28,0.76],[-2.5,0.74],[-2.72,0.75],[-2.95,0.76],[-3.2,0.74],[-3.5,0.75],
  [-3.85,0.76],[-4.25,0.74],
  [-1.35,0.845],[-1.55,0.855],[-1.75,0.835],[-1.95,0.845],[-2.15,0.855],[-2.38,0.835],[-2.6,0.845],[-2.85,0.855],[-3.1,0.835],
  [-3.38,0.845],[-3.7,0.855],[-4.05,0.835],[-4.45,0.845],
  [-1.25,0.935],[-1.45,0.945],[-1.65,0.925],[-1.85,0.935],[-2.05,0.945],[-2.25,0.925],[-2.48,0.935],[-2.7,0.945],[-2.95,0.925],
  [-3.22,0.935],[-3.52,0.945],[-3.88,0.925],[-4.3,0.935],
  [-1.32,1.025],[-1.5,1.035],[-1.7,1.015],[-1.9,1.025],[-2.1,1.035],[-2.32,1.015],[-2.55,1.025],[-2.78,1.035],[-3.02,1.015],
  [-3.3,1.025],[-3.62,1.035],[-4.0,1.015],[-4.4,1.025],
  [-1.4,1.115],[-1.6,1.125],[-1.8,1.105],[-2.0,1.115],[-2.2,1.125],[-2.42,1.105],[-2.65,1.115],[-2.9,1.125],[-3.18,1.105],
  [-3.5,1.115],[-3.85,1.125],[-4.25,1.105],
  [-1.45,1.205],[-1.65,1.215],[-1.85,1.195],[-2.05,1.205],[-2.28,1.215],[-2.52,1.195],[-2.78,1.205],[-3.05,1.215],[-3.35,1.195],
  [-3.68,1.205],[-4.05,1.215],
  [-1.5,1.295],[-1.7,1.305],[-1.92,1.285],[-2.15,1.295],[-2.38,1.305],[-2.62,1.285],[-2.9,1.295],[-3.2,1.305],[-3.52,1.285],
  [-3.85,1.295],
  [-1.55,1.385],[-1.78,1.395],[-2.0,1.375],[-2.22,1.385],[-2.48,1.395],[-2.75,1.375],[-3.05,1.385],[-3.38,1.395],
  [-1.62,1.475],[-1.85,1.485],[-2.08,1.465],[-2.32,1.475],[-2.6,1.485],[-2.9,1.465],[-3.2,1.475],
  [-1.7,1.565],[-1.92,1.575],[-2.18,1.555],[-2.45,1.565],[-2.72,1.575],[-3.0,1.555],
  [-1.8,1.655],[-2.02,1.665],[-2.28,1.645],[-2.55,1.655],[-2.85,1.665],
  [-1.9,1.745],[-2.12,1.755],[-2.38,1.735],[-2.65,1.745],
  [-1.9,1.84],[-2.15,1.85],[-2.4,1.83],
  [0.55,0.6],[0.7,0.61],[0.86,0.59],[1.02,0.6],[1.2,0.61],[1.42,0.59],[1.65,0.6],
  [0.52,0.77],[0.68,0.78],[0.85,0.76],[1.02,0.77],[1.22,0.78],[1.42,0.76],[1.64,0.77],[1.88,0.78],[2.15,0.76],
  [0.58,0.95],[0.74,0.96],[0.9,0.94],[1.08,0.95],[1.28,0.96],[1.48,0.94],[1.7,0.95],[1.95,0.96],[2.2,0.94],
  [0.66,1.12],[0.82,1.13],[0.98,1.11],[1.16,1.12],[1.36,1.13],[1.58,1.11],[1.82,1.12],[2.05,1.13],
  [0.74,1.3],[0.9,1.31],[1.08,1.29],[1.28,1.3],[1.48,1.31],[1.72,1.29],[1.98,1.3],
  [0.82,1.48],[0.98,1.49],[1.18,1.47],[1.4,1.48],[1.62,1.49],[1.86,1.47],
  [0.9,1.66],[1.08,1.67],[1.3,1.65],[1.52,1.66],[1.78,1.67],
  [0.98,1.84],[1.18,1.85],[1.4,1.83],[1.64,1.84]
];

const pCutoffs = [2, 1.3];     // -log10 p thresholds
const fcCutoffs = [-1, 1];     // log2FC thresholds
const yTicks = [0, 1, 2, 3, 4, 5];
const tobXLabels = [-10, -5, 0, 5, 10];
const cipXLabels = [-10, 0, 10];

const RED = '#ff1414', BLUE = '#1c1cff', INK = '#2a2a2a', ORANGE = '#f08a44';
const FONT = "'Liberation Sans', Arial, sans-serif";

// gene labels: text, colour, anchor (data units), optional leader line
const tobGenes = [
  { t: 'miaA', c: RED, x: -4.77, y: 4.2, line: [[-3.83, 4.07], [-4.21, 4.01]] },
  { t: 'rsmI', c: BLUE, x: -3.01, y: 3.99, line: [[-2.64, 3.94], [-3.2, 3.82]] },
  { t: 'rsmH', c: BLUE, x: -6.97, y: 3.31, line: [[-4.95, 3.46], [-3.01, 3.04]] },
  { t: 'rsmG', c: BLUE, x: -6.97, y: 3.03, line: [[-5.21, 3.14], [-3.08, 3.0]] },
  { t: 'miaB', c: RED, x: -4.13, y: 3.38, line: [[-2.86, 3.28], [-2.6, 3.15]] },
  { t: 'rlmB', c: BLUE, x: -2.04, y: 3.13 },
  { t: 'tgt', c: RED, x: -5.25, y: 2.57, box: true, line: [[-4.5, 2.68], [-4.09, 2.62]] },
  { t: 'rsmF', c: BLUE, x: -3.35, y: 2.61, line: [[-1.85, 2.69], [-1.33, 2.62]] },
  { t: 'trmA', c: RED, x: -0.95, y: 2.48 },
  { t: 'rluE', c: BLUE, x: -0.21, y: 2.9, line: [[0.17, 2.8], [-0.36, 2.69]] },
  { t: 'rluC', c: BLUE, x: -0.47, y: 4.27, line: [[0.47, 4.17], [0.84, 4.08]] },
  { t: 'rluB', c: BLUE, x: 3.08, y: 4.34, box: true, line: [[3.61, 4.3], [3.23, 4.11]] },
  { t: 'dusB', c: RED, x: 4.06, y: 3.85, box: true, line: [[3.61, 4.0], [3.83, 3.96]] },
  { t: 'dusA', c: RED, x: -0.13, y: 3.7, line: [[1.25, 3.69], [1.93, 3.59]] },
  { t: 'trmH', c: RED, x: 3.08, y: 3.3, box: true, line: [[2.82, 3.49], [2.45, 3.58]] },
  { t: 'rlmN', c: BLUE, x: 1.5, y: 2.65, box: true, line: [[1.51, 2.55], [1.21, 2.17]] },
  { t: 'trmB', c: RED, x: 1.55, y: 2.24, line: [[2.07, 2.23], [1.4, 2.04]] },
  { t: 'queADEF', c: RED, x: -8.95, y: 2.14 },
  { t: 'rsmD', c: BLUE, x: -5.14, y: 2.18, line: [[-3.64, 2.24], [-2.64, 2.17]] },
  { t: '', line: [[-3.64, 2.2], [-2.71, 2.1]] },
  { t: 'rsmB', c: BLUE, x: -5.14, y: 1.9 },
  { t: 'rsuA', c: BLUE, x: -3.01, y: 1.76, line: [[-1.7, 1.92], [-1.29, 1.94]] },
  { t: 'rlmH', c: BLUE, x: -3.72, y: 1.37, line: [[-2.26, 1.45], [-1.59, 1.48]] },
  { t: 'rlmI', c: BLUE, x: -3.35, y: 0.9, line: [[-1.96, 1.11], [-0.65, 1.39]], lc: ORANGE },
  { t: 'truB, truC,', c: RED, x: -4.77, y: 0.35, line: [[-2.04, 0.35], [-0.06, 0.62]], lc: ORANGE },
  { t: 'trmK', c: RED, x: -3.27, y: 0.1 },
  { t: 'rluF', c: BLUE, x: -1.93, y: 0.2, line: [[-0.65, 0.3], [-0.24, 0.48]], lc: ORANGE },
  { t: 'rlmE', c: BLUE, x: -0.65, y: 0.06, line: [[0.36, 0.27], [0.24, 0.63]], lc: ORANGE },
  { t: 'rluD', c: BLUE, x: -0.28, y: 1.75, line: [[0.28, 1.73], [0.5, 1.48]], lc: BLUE },
  { t: 'rsmC', c: BLUE, x: 1.51, y: 1.28, line: [[1.89, 1.27], [1.33, 1.06]], lc: BLUE },
  { t: 'truA', c: RED, x: 1.59, y: 0.93 },
  { t: 'trmE', c: RED, x: 2.49, y: 0.69, line: [[2.49, 0.76], [1.03, 0.75]], lc: RED }
];

const cipGenes = [
  { t: 'rlmN', c: BLUE, x: -4.21, y: 3.6, box: true, line: [[-2.35, 3.63], [-1.22, 3.48]] },
  { t: 'rluD', c: BLUE, x: 1.52, y: 2.78, line: [[2.44, 2.73], [2.74, 2.59]] },
  { t: 'rlmE', c: BLUE, x: 11.1, y: 2.5, box: true, line: [[10.86, 2.58], [9.63, 2.51]] },
  { t: 'rsmB', c: BLUE, x: -5.09, y: 1.71, line: [[-3.47, 1.69], [-1.76, 1.32]], lc: BLUE },
  { t: 'truA', c: RED, x: -6.31, y: 1.46, line: [[-4.84, 1.44], [-1.91, 1.22]], lc: ORANGE },
  { t: 'gidA', c: RED, x: -2.89, y: 1.61, line: [[-1.86, 1.5], [-1.37, 1.26]], lc: ORANGE },
  { t: 'tgt', c: RED, x: -0.68, y: 1.61 },
  { t: 'rluE', c: BLUE, x: -4.11, y: 1.05, line: [[-2.74, 1.0], [-1.37, 0.74]], lc: ORANGE },
  { t: 'rsmG', c: BLUE, x: -4.6, y: 0.69, line: [[-2.64, 0.72], [-1.42, 0.61]], lc: ORANGE },
  { t: '', line: [[-3.81, 1.39], [-3.23, 1.39], [-3.23, 1.54]] },
  { t: 'rlmB', c: BLUE, x: 2.3, y: 1.43, line: [[2.3, 1.5], [1.08, 1.26]], lc: ORANGE },
  { t: 'trmB', c: RED, x: 2.25, y: 1.05, line: [[2.25, 1.08], [1.71, 1.18]], lc: ORANGE },
  { t: 'trmE', c: RED, x: 2.79, y: 0.77, line: [[2.54, 0.74], [1.42, 0.88]], lc: RED },
  { t: 'rlmI, rsuA, rsmC,', c: BLUE, x: -1.86, y: 0.37, align: 'right', line: [[-1.86, 0.3], [-0.05, 0.59]], lc: BLUE },
  { t: 'rsmD, rsmF, rluB, rluF, rsmH', c: BLUE, x: -1.86, y: 0.085, align: 'right' },
  { t: 'dusA, dusB, miaB, truB,', c: RED, x: 1.42, y: 0.354, line: [[1.27, 0.24], [0.29, 0.58]], lc: RED },
  { t: 'truC, trmA, trmH, trmK, rluF', c: RED, x: 1.42, y: 0.085 }
];

const geneLabels = {
  id: 'geneLabels',
  afterDatasetsDraw(chart, args, opts) {
    const ctx = chart.ctx, xs = chart.scales.x, ys = chart.scales.y;
    ctx.save();
    ctx.font = 'italic 17px ' + FONT;
    ctx.textBaseline = 'alphabetic';
    const placed = (opts.items || []).map(g => {
      const px = xs.getPixelForValue(g.x || 0), py = ys.getPixelForValue(g.y || 0);
      const w = g.t ? ctx.measureText(g.t).width : 0;
      return { g, left: g.align === 'right' ? px - w : px, py, w };
    });
    placed.forEach(p => {
      if (!p.g.box) return;
      ctx.fillStyle = 'rgba(250,246,150,0.9)';
      ctx.fillRect(p.left - 5.5, p.py - 22, p.w + 11, 30);
    });
    placed.forEach(p => {
      if (!p.g.line) return;
      ctx.beginPath();
      p.g.line.forEach(([lx, ly], i) => {
        const X = xs.getPixelForValue(lx), Y = ys.getPixelForValue(ly);
        if (i) ctx.lineTo(X, Y); else ctx.moveTo(X, Y);
      });
      ctx.strokeStyle = p.g.lc || INK;
      ctx.lineWidth = 1;
      ctx.stroke();
    });
    placed.forEach(p => {
      if (!p.g.t) return;
      ctx.fillStyle = p.g.c;
      ctx.fillText(p.g.t, p.left, p.py);
    });
    ctx.restore();
  }
};

function dotted(points) {
  return {
    data: points, showLine: true, pointRadius: 0, pointHoverRadius: 0,
    borderColor: '#000', borderWidth: 2.3, borderDash: [0.01, 7.5], borderCapStyle: 'round'
  };
}

function volcano(id, o) {
  const datasets = [
    { data: o.spread.map(([x, y]) => ({ x, y })), pointRadius: 1.5, pointHoverRadius: 1.5, backgroundColor: '#000', borderWidth: 0 },
    { data: o.core.map(([x, y]) => ({ x, y })), pointRadius: 1.9, pointHoverRadius: 1.9, backgroundColor: '#000', borderWidth: 0 }
  ];
  pCutoffs.forEach(p => datasets.push(dotted([{ x: o.hFrom, y: p }, { x: o.xMax, y: p }])));
  fcCutoffs.forEach(f => datasets.push(dotted([{ x: f, y: 0 }, { x: f, y: 5 }])));

  return new Chart(document.getElementById(id), {
    type: 'scatter',
    data: { datasets },
    plugins: [geneLabels],
    options: {
      responsive: false,
      animation: false,
      events: [],
      layout: { padding: { left: 0, top: 66, right: o.padRight, bottom: 0 } },
      plugins: { legend: { display: false }, tooltip: { enabled: false }, geneLabels: { items: o.genes } },
      scales: {
        x: {
          type: 'linear', min: o.xMin, max: o.xMax,
          afterFit: s => { s.height = o.xBox; },
          ticks: {
            stepSize: 1, autoSkip: false, maxRotation: 0, padding: 5, color: '#000',
            font: { family: FONT, weight: 'bold', size: 18 },
            callback: v => o.xLabels.includes(v) ? String(v) : ''
          },
          grid: { drawOnChartArea: false, drawTicks: true, tickLength: o.xTick, color: '#000', lineWidth: 2 },
          border: { display: true, color: '#000', width: 2.5 },
          title: { display: true, text: 'log2FC', color: '#000', font: { family: FONT, weight: 'bold', size: 20 }, padding: { top: 0, bottom: 2 } }
        },
        y: {
          type: 'linear', min: 0, max: 5,
          afterFit: s => { s.width = o.yBox; },
          ticks: {
            stepSize: 1, padding: 3, color: '#000',
            font: { family: FONT, weight: 'bold', size: 18 },
            callback: v => yTicks.includes(v) ? String(v) : ''
          },
          grid: { drawOnChartArea: false, drawTicks: true, tickLength: o.yTick, color: '#000', lineWidth: 2 },
          border: { display: true, color: '#000', width: 2.5 }
        }
      }
    }
  });
}

volcano('tob', {
  spread: tobSpread, core: tobCore.concat(tobCoreFill, tobFlank), genes: tobGenes, xLabels: tobXLabels,
  xMin: -10, xMax: 10, hFrom: -9.75, padRight: 40, xBox: 66, yBox: 65, xTick: 11, yTick: 10
});

volcano('cip', {
  spread: cipSpread, core: cipCore.concat(cipCoreFill, cipFlank), genes: cipGenes, xLabels: cipXLabels,
  xMin: -13, xMax: 13, hFrom: -12.7, padRight: 53, xBox: 68, yBox: 115, xTick: 7, yTick: 12
});
</script>
</body>
</html>
